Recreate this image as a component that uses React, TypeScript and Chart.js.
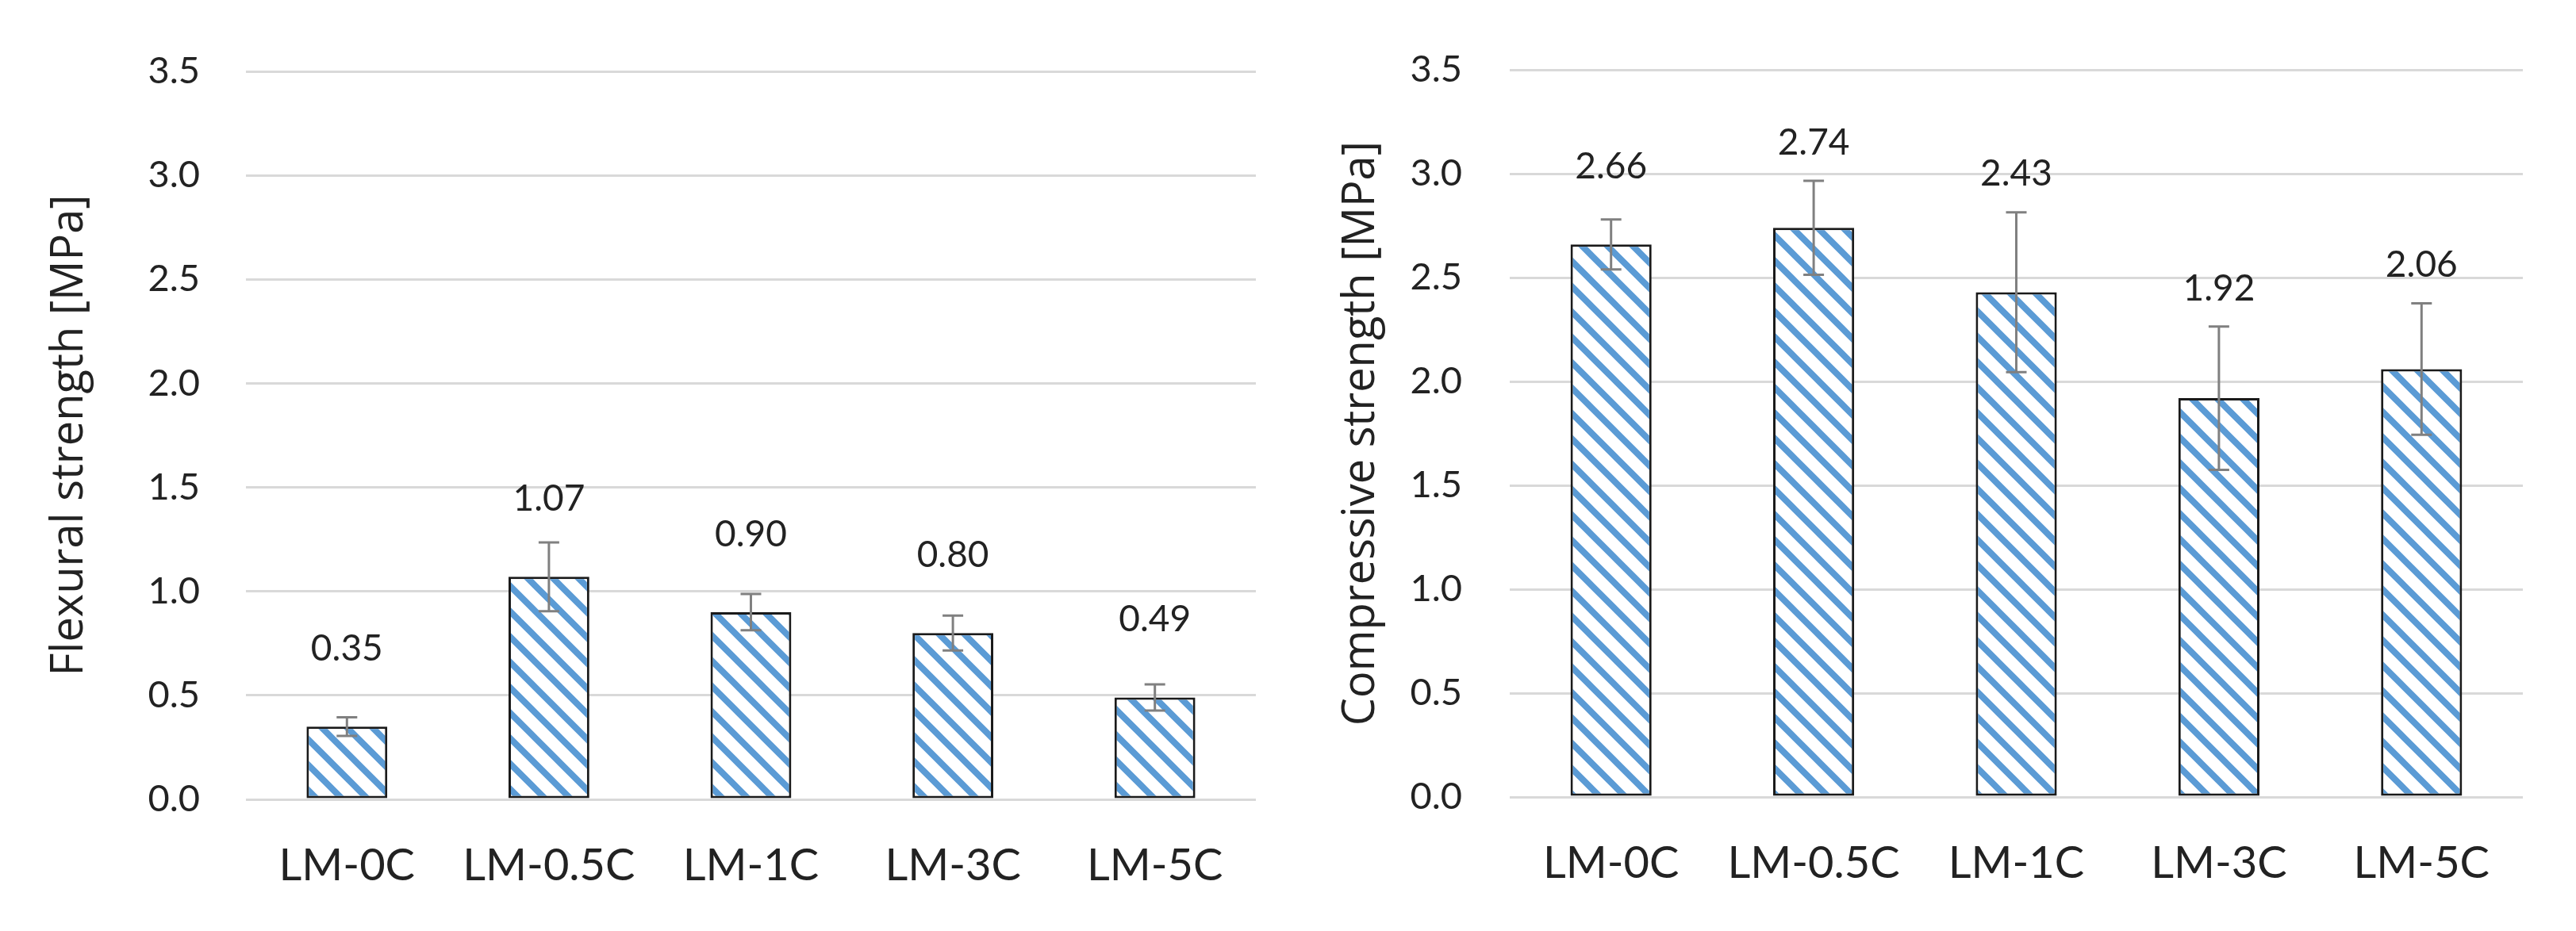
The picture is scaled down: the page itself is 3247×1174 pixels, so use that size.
import React, { useEffect, useRef } from "react";
import { Chart, registerables } from "chart.js";

Chart.register(...registerables);

const categories = ["LM-0C", "LM-0.5C", "LM-1C", "LM-3C", "LM-5C"];
const flexuralValues = [0.35, 1.07, 0.9, 0.8, 0.49];
const flexuralErrors = [0.045, 0.165, 0.087, 0.084, 0.063];
const compressiveValues = [2.66, 2.74, 2.43, 1.92, 2.06];
const compressiveErrors = [0.12, 0.226, 0.385, 0.345, 0.316];
const yTickValues = [0, 0.5, 1.0, 1.5, 2.0, 2.5, 3.0, 3.5];
const flexuralTitle = "Flexural strength [MPa]";
const compressiveTitle = "Compressive strength [MPa]";

const TEXT = "#222222";
const TICK_FONT = "Lato";
const TITLE_FONT = "Open Sans";

function makeHatch(): CanvasPattern | string {
  const size = 32;
  const c = document.createElement("canvas");
  c.width = size;
  c.height = size;
  const g = c.getContext("2d");
  if (!g) return "#5B9BD5";
  g.fillStyle = "#ffffff";
  g.fillRect(0, 0, size, size);
  g.strokeStyle = "#5B9BD5";
  g.lineWidth = 8;
  g.beginPath();
  for (const k of [-1, 0, 1]) {
    g.moveTo(-8, -8 + k * size);
    g.lineTo(size + 8, size + 8 + k * size);
  }
  g.stroke();
  return g.createPattern(c, "repeat") || "#5B9BD5";
}

interface PanelProps {
  values: number[];
  errors: number[];
  title: string;
  plotLeft: number;
  plotTop: number;
  plotRight: number;
  plotBottom: number;
  canvasWidth: number;
  canvasHeight: number;
  titleCenter: number;
  tickGap: number;
}

function Panel(p: PanelProps) {
  const ref = useRef<HTMLCanvasElement | null>(null);
  useEffect(() => {
    if (!ref.current) return;
    const values = p.values;
    const errors = p.errors;
    const overlay = {
      id: "errAndLabels",
      afterDatasetsDraw(chart: any) {
        const ctx = chart.ctx as CanvasRenderingContext2D;
        const ys = chart.scales.y;
        const meta = chart.getDatasetMeta(0);
        ctx.save();
        meta.data.forEach((bar: any, i: number) => {
          const v = values[i];
          const e = errors[i];
          const x = bar.x;
          const yTop = ys.getPixelForValue(v + e);
          const yBot = ys.getPixelForValue(v - e);
          ctx.strokeStyle = "#808080";
          ctx.lineWidth = 3;
          ctx.beginPath();
          ctx.moveTo(x, yTop);
          ctx.lineTo(x, yBot);
          ctx.moveTo(x - 13, yTop);
          ctx.lineTo(x + 13, yTop);
          ctx.moveTo(x - 13, yBot);
          ctx.lineTo(x + 13, yBot);
          ctx.stroke();
          const barTop = ys.getPixelForValue(v);
          const ly = Math.min(barTop - 98, yTop - 48);
          ctx.fillStyle = TEXT;
          ctx.font = `46px ${TICK_FONT}`;
          ctx.textAlign = "center";
          ctx.textBaseline = "middle";
          ctx.fillText(v.toFixed(2), x, ly);
        });
        ctx.restore();
      },
    };
    const titleSize = 56;
    const titleLine = titleSize * 1.2;
    const chart = new Chart(ref.current, {
      type: "bar",
      data: {
        labels: categories,
        datasets: [
          {
            data: values,
            backgroundColor: makeHatch() as any,
            borderColor: "#1a1a1a",
            borderWidth: 3,
            borderSkipped: false,
            categoryPercentage: 1,
            barPercentage: 0.4,
          },
        ],
      },
      options: {
        animation: false,
        responsive: true,
        maintainAspectRatio: false,
        layout: {
          padding: {
            left: 0,
            top: p.plotTop,
            right: p.canvasWidth - p.plotRight,
            bottom: 0,
          },
        },
        plugins: {
          legend: { display: false },
          tooltip: { enabled: false },
        },
        scales: {
          x: {
            grid: { display: false },
            border: { display: false },
            ticks: {
              color: TEXT,
              font: { family: TICK_FONT, size: 56 },
              padding: 42,
              maxRotation: 0,
            },
            afterFit: (s: any) => {
              s.height = p.canvasHeight - p.plotBottom;
            },
          },
          y: {
            min: 0,
            max: 3.5,
            afterBuildTicks: (s: any) => {
              s.ticks = yTickValues.map((v) => ({ value: v }));
            },
            ticks: {
              color: TEXT,
              font: { family: TICK_FONT, size: 47 },
              padding: p.tickGap,
              callback: (v: any) => Number(v).toFixed(1),
            },
            grid: { color: "#d9d9d9", lineWidth: 3, drawTicks: false },
            border: { display: false },
            title: {
              display: true,
              text: p.title,
              color: TEXT,
              font: { family: TITLE_FONT, size: titleSize, lineHeight: 1.2 },
              padding: { top: p.titleCenter - titleLine / 2, bottom: 0 },
            },
            afterFit: (s: any) => {
              s.width = p.plotLeft;
            },
          },
        },
      },
      plugins: [overlay],
    });
    return () => chart.destroy();
  }, []);
  return (
    <div style={{ position: "relative", width: p.canvasWidth, height: p.canvasHeight }}>
      <canvas ref={ref} />
    </div>
  );
}

export default function App() {
  return (
    <div
      style={{
        position: "absolute",
        left: 0,
        top: 0,
        width: 3247,
        height: 1174,
        background: "#ffffff",
        overflow: "hidden",
      }}
    >
      <div style={{ position: "absolute", left: 0, top: 0 }}>
        <Panel
          values={flexuralValues}
          errors={flexuralErrors}
          title={flexuralTitle}
          plotLeft={310}
          plotTop={90}
          plotRight={1583}
          plotBottom={1008}
          canvasWidth={1620}
          canvasHeight={1174}
          titleCenter={88}
          tickGap={58}
        />
      </div>
      <div style={{ position: "absolute", left: 1620, top: 0 }}>
        <Panel
          values={compressiveValues}
          errors={compressiveErrors}
          title={compressiveTitle}
          plotLeft={283}
          plotTop={87}
          plotRight={1560}
          plotBottom={1005}
          canvasWidth={1627}
          canvasHeight={1174}
          titleCenter={96}
          tickGap={60}
        />
      </div>
    </div>
  );
}
